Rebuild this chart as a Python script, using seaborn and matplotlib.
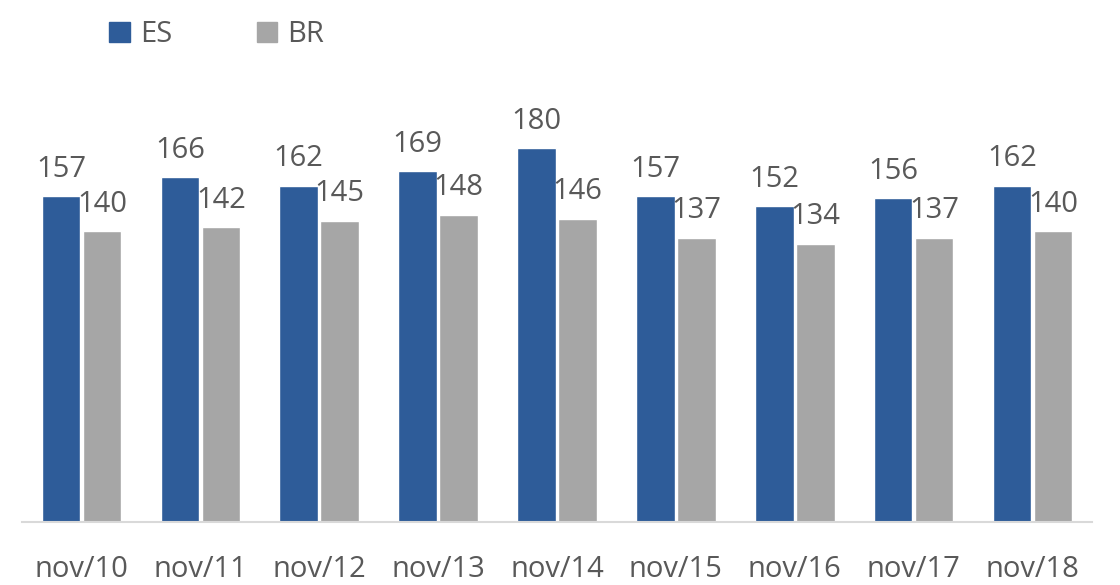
import pandas as pd
import seaborn as sns
import matplotlib.pyplot as plt

months = ["nov/10", "nov/11", "nov/12", "nov/13", "nov/14", "nov/15", "nov/16", "nov/17", "nov/18"]
es_values = [157, 166, 162, 169, 180, 157, 152, 156, 162]
br_values = [140, 142, 145, 148, 146, 137, 134, 137, 140]
series = ["ES", "BR"]
colors = ["#2E5C99", "#A6A6A6"]
text_color = "#595959"


def main():
    df = pd.DataFrame({
        "month": months * 2,
        "value": es_values + br_values,
        "series": ["ES"] * len(months) + ["BR"] * len(months),
    })

    sns.set_style("white")
    plt.rcParams["font.family"] = ["Open Sans", "DejaVu Sans"]

    fig = plt.figure(figsize=(11.2, 5.85), dpi=100)
    ax = fig.add_axes([22 / 1120, 63 / 585, 1070 / 1120, 415.2 / 585])

    sns.barplot(data=df, x="month", y="value", hue="series", hue_order=series,
                palette=colors, width=0.69, gap=0.06, ax=ax, legend=False,
                saturation=1)

    for cont in ax.containers:
        ax.bar_label(cont, padding=9, fontsize=21, color=text_color)

    ax.set_ylim(0, 200)
    ax.set_xlim(-0.5, len(months) - 0.5)
    ax.set_xlabel("")
    ax.set_ylabel("")
    ax.set_yticks([])

    for side in ["top", "right", "left"]:
        ax.spines[side].set_visible(False)
    ax.spines["bottom"].set_color("#D9D9D9")
    ax.spines["bottom"].set_linewidth(1.5)

    ax.set_xticks([i - 0.5 for i in range(len(months) + 1)], minor=True)
    ax.tick_params(axis="x", which="minor", length=8, width=1.5, color="#D9D9D9")
    ax.tick_params(axis="x", which="major", length=0, pad=24, labelsize=21,
                   labelcolor=text_color)

    # legend drawn by hand at the top left
    handles = [plt.Rectangle((0, 0), 1, 1, color=c) for c in colors]
    fig.legend(handles, series, loc="upper left", bbox_to_anchor=(0.074, 1.01),
               ncol=2, frameon=False, fontsize=21, handlelength=0.7,
               handleheight=0.7, handletextpad=0.35, columnspacing=2.9,
               labelcolor=text_color)

    fig.savefig("out.png", dpi=100)


if __name__ == "__main__":
    main()
